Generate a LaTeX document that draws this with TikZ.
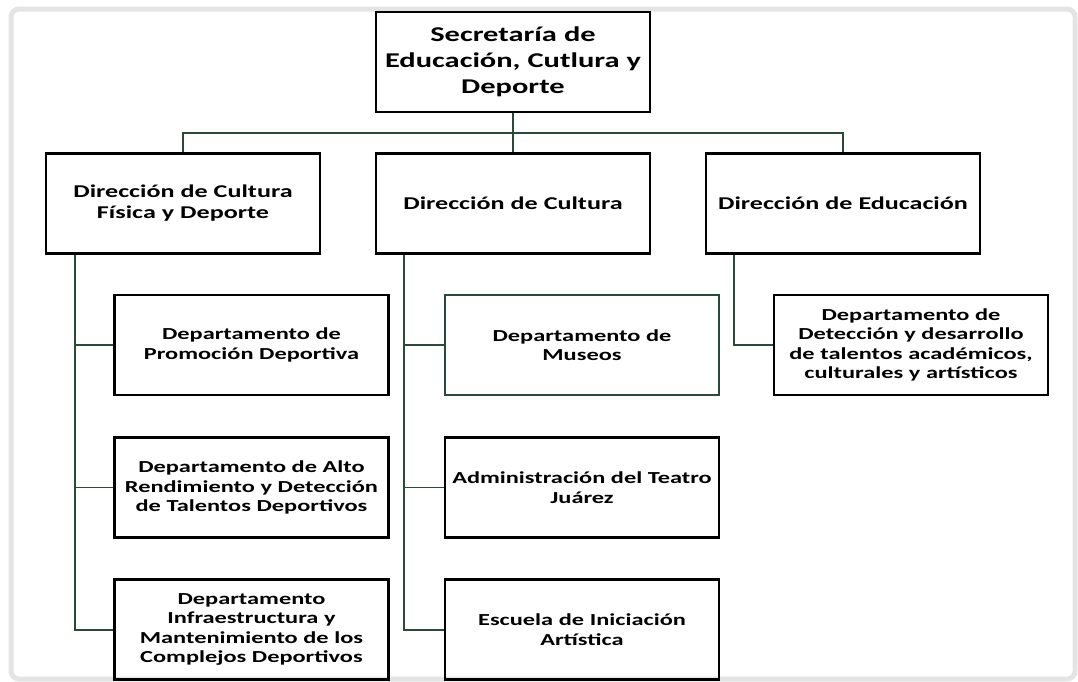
\documentclass[tikz,border=0pt]{standalone}
\usepackage{fontspec}
\setmainfont[FakeStretch=1.45, BoldFeatures={FakeStretch=1.45}]{Carlito}
\definecolor{linea}{RGB}{44,74,56}
\definecolor{marco}{RGB}{228,228,228}
\tikzstyle{caja} = [draw=black, line width=2.4pt, rectangle, minimum width=274pt, minimum height=100pt, text width=270pt, align=center, inner sep=0pt, font=\bfseries\fontsize{16.8}{19.5}\selectfont]
\tikzstyle{jefe} = [caja, font=\bfseries\fontsize{21}{26}\selectfont]
\tikzstyle{dir} = [caja, font=\bfseries\fontsize{18}{21}\selectfont]
\tikzstyle{rama} = [draw=linea, line width=2pt]
\tikzstyle{ramita} = [draw=linea, line width=1.2pt]

\begin{document}
\begin{tikzpicture}[x=1pt,y=-1pt]%
	\useasboundingbox (0,0) rectangle (1078,681);%
	\draw[marco, line width=5pt, rounded corners=8pt] (11,9) rectangle (1075,679);%
	% nivel 1
	\node [jefe] (sec) at (513,62) {Secretaría de\\Educación, Cutlura y\\Deporte};%
	% nivel 2
	\node [dir] (dcf) at (183,203.5) {Dirección de Cultura\\Física y Deporte};%
	\node [dir] (dcu) at (513,203.5) {Dirección de Cultura};%
	\node [dir] (ded) at (843,203.5) {Dirección de Educación};%
	% nivel 3
	\node [caja] (prom) at (251.5,345) {Departamento de\\Promoción Deportiva};%
	\node [caja] (alto) at (251.5,487.5) {Departamento de Alto\\Rendimiento y Detección\\de Talentos Deportivos};%
	\node [caja] (infra) at (251.5,629.5) {Departamento\\Infraestructura y\\Mantenimiento de los\\Complejos Deportivos};%
	\node [caja, draw=linea, line width=1.6pt] (mus) at (582,345) {Departamento de\\Museos};%
	\node [caja] (teatro) at (582,487.5) {Administración del Teatro\\Juárez};%
	\node [caja] (escuela) at (582,629.5) {Escuela de Iniciación\\Artística};%
	\node [caja] (talentos) at (911,345) {Departamento de\\Detección y desarrollo\\de talentos académicos,\\culturales y artísticos};%
	% conectores
	\coordinate (bus) at (513,133);%
	\draw[rama] (sec.south) -- (bus);%
	\draw[rama] (dcf.north) |- (bus) -| (ded.north);%
	\draw[rama] (bus) -- (dcu.north);%
	\draw[rama] ([xshift=-108pt]dcf.south) |- (infra.west);%
	\draw[rama] ([xshift=-108pt]dcf.south |- prom.west) -- (prom.west);%
	\draw[ramita] ([xshift=-108pt]dcf.south |- alto.west) -- (alto.west);%
	\draw[rama] ([xshift=-109pt]dcu.south) |- (escuela.west);%
	\draw[rama] ([xshift=-109pt]dcu.south |- mus.west) -- (mus.west);%
	\draw[ramita] ([xshift=-109pt]dcu.south |- teatro.west) -- (teatro.west);%
	\draw[rama] ([xshift=-109pt]ded.south) |- (talentos.west);%
\end{tikzpicture}
\end{document}
